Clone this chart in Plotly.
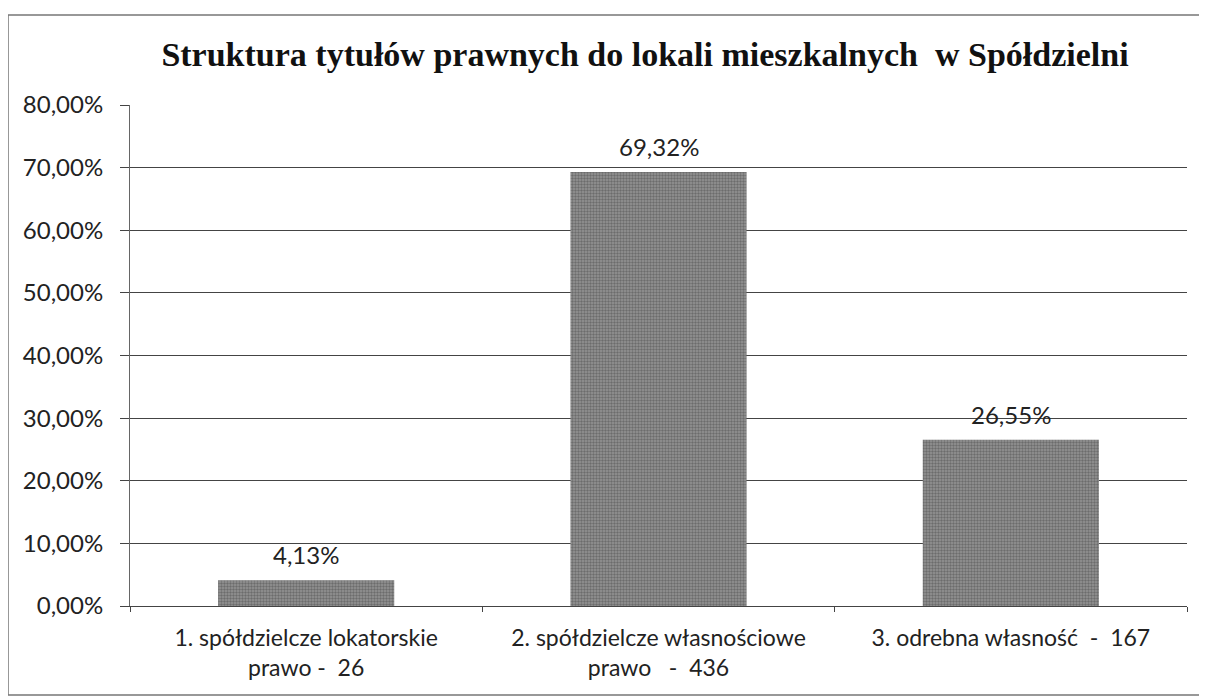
import plotly.graph_objects as go

categories = ["1. spółdzielcze lokatorskie<br>prawo -  26",
              "2. spółdzielcze własnościowe<br>prawo   -  436",
              "3. odrebna własność  -  167"]
values = [0.0413, 0.6932, 0.2655]
y_ticks = [0, 0.1, 0.2, 0.3, 0.4, 0.5, 0.6, 0.7, 0.8]
title_text = "Struktura tytułów prawnych do lokali mieszkalnych  w Spółdzielni"

FONT = "Lato"
OFF = 8  # page body margin offset

PL, PR, PT, PB = 130, 1187, 105, 606  # plot area on screen
W, H = 1207, 700

fig = go.Figure(go.Bar(
    x=categories, y=values,
    marker=dict(color="#808080", line=dict(width=0),
                pattern=dict(shape=".", size=3, solidity=0.5, fgcolor="#444444", bgcolor="#959595")),
    cliponaxis=False,
))

for c, v in zip(categories, values):
    fig.add_annotation(x=c, y=v, text=f"{v * 100:.2f}%".replace(".", ","),
                       showarrow=False, yanchor="bottom", yshift=9,
                       font=dict(family=FONT, size=24, color="#222"))

fig.update_layout(
    width=W, height=H,
    margin=dict(l=PL - OFF, r=W + OFF - PR, t=PT - OFF, b=H + OFF - PB),
    paper_bgcolor="white", plot_bgcolor="white",
    separators=", ",
    bargap=0.5,
    showlegend=False,
    title=dict(text="<b>" + title_text + "</b>", x=(645 - OFF) / W, xanchor="center",
               y=1 - (54 - OFF) / H, yanchor="middle", yref="container",
               font=dict(family="Liberation Serif", size=34, color="#111")),
    font=dict(family=FONT, size=23, color="#222"),
)
fig.update_yaxes(range=[0, 0.8], tickvals=y_ticks, tickformat=".2%",
                 showgrid=True, gridcolor="#444", gridwidth=1,
                 showline=True, linecolor="#666", linewidth=1,
                 ticks="outside", ticklen=9, tickcolor="#444",
                 ticklabelstandoff=12,
                 tickfont=dict(family=FONT, size=24, color="#222"), zeroline=False)
fig.update_xaxes(showline=True, linecolor="#444", linewidth=1,
                 ticks="outside", ticklen=5, tickcolor="#444", tickson="boundaries",
                 ticklabelstandoff=11,
                 tickfont=dict(family=FONT, size=23, color="#222"))

pw, ph = PR - PL, PB - PT
fig.add_shape(type="rect", xref="paper", yref="paper",
              x0=(8 - PL) / pw, x1=(1200 - PL) / pw,
              y0=(PB - 695) / ph, y1=(PB - 15) / ph,
              line=dict(color="#777", width=1.5), layer="below")

fig.write_html("out.html")
